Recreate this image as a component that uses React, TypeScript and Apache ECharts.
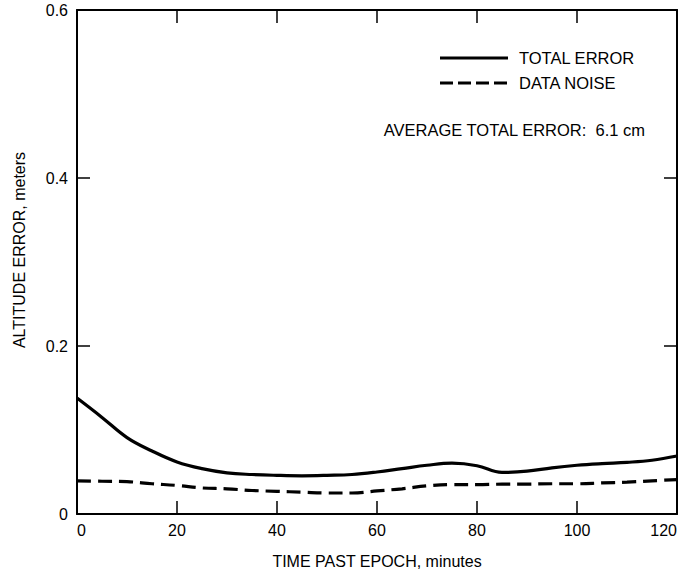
import React, { useEffect, useRef } from "react";
import * as echarts from "echarts";

const minutes = [0, 5, 10, 15, 20, 25, 30, 35, 40, 45, 50, 55, 60, 65, 70, 75, 80, 85, 90, 95, 100, 105, 110, 115, 120];
const totalError = [0.138, 0.115, 0.091, 0.075, 0.062, 0.054, 0.049, 0.047, 0.046, 0.0455, 0.046, 0.047, 0.05, 0.054, 0.058, 0.0605, 0.0575, 0.0495, 0.051, 0.055, 0.058, 0.06, 0.0615, 0.064, 0.069];
const dataNoise = [0.0395, 0.039, 0.0385, 0.036, 0.034, 0.031, 0.03, 0.028, 0.027, 0.026, 0.025, 0.025, 0.0275, 0.03, 0.0335, 0.035, 0.035, 0.0355, 0.0356, 0.036, 0.036, 0.037, 0.038, 0.0395, 0.041];
const seriesNames = ["TOTAL ERROR", "DATA NOISE"];
const xTitle = "TIME PAST EPOCH, minutes";
const yTitle = "ALTITUDE ERROR, meters";
const note = "AVERAGE TOTAL ERROR:  6.1 cm";

const FONT = "'Liberation Sans', Arial, sans-serif";

export default function App() {
  const ref = useRef<HTMLDivElement>(null);
  useEffect(() => {
    if (!ref.current) return;
    const chart = echarts.init(ref.current, undefined, { renderer: "svg" });
    const axisLine = { show: true, onZero: false, lineStyle: { color: "#000", width: 2 } };
    const tick = { show: true, inside: true, length: 13, lineStyle: { color: "#000", width: 1.5 } };
    const solidStyle = { color: "#000", width: 3.2, type: "solid" as const };
    const dashStyle = { color: "#000", width: 3.2, type: [14, 7] as number[] };
    chart.setOption({
      animation: false,
      backgroundColor: "#fff",
      textStyle: { fontFamily: FONT, color: "#000" },
      grid: { left: 77, top: 10, right: 19, bottom: 58 },
      graphic: [
        { type: "line", shape: { x1: 440, y1: 58, x2: 508, y2: 58 }, style: { stroke: "#000", lineWidth: 3.2 } },
        { type: "line", shape: { x1: 440, y1: 83, x2: 508, y2: 83 }, style: { stroke: "#000", lineWidth: 3.2, lineDash: [13, 5] } },
        { type: "text", x: 519, y: 58, style: { text: seriesNames[0], font: `16.5px ${FONT}`, fill: "#000", verticalAlign: "middle" } },
        { type: "text", x: 519, y: 83, style: { text: seriesNames[1], font: `16.5px ${FONT}`, fill: "#000", verticalAlign: "middle" } },
        { type: "text", x: 645, y: 130, style: { text: note, font: `16.5px ${FONT}`, fill: "#000", align: "right", verticalAlign: "middle" } },
      ],
      xAxis: [
        {
          type: "value",
          min: 0,
          max: 120,
          interval: 20,
          position: "bottom",
          axisLine,
          axisTick: tick,
          splitLine: { show: false },
          axisLabel: { fontSize: 16, color: "#000", margin: 8, fontFamily: FONT, alignMinLabel: "left", alignMaxLabel: "right" },
          name: xTitle,
          nameLocation: "middle",
          nameGap: 39,
          nameTextStyle: { fontSize: 16, color: "#000", fontFamily: FONT },
        },
        {
          type: "value",
          min: 0,
          max: 120,
          interval: 20,
          position: "top",
          axisLine,
          axisTick: tick,
          splitLine: { show: false },
          axisLabel: { show: false },
        },
      ],
      yAxis: [
        {
          type: "value",
          min: 0,
          max: 0.6,
          interval: 0.2,
          position: "left",
          axisLine,
          axisTick: tick,
          splitLine: { show: false },
          axisLabel: { fontSize: 16, color: "#000", margin: 9, fontFamily: FONT },
          name: yTitle,
          nameLocation: "middle",
          nameGap: 50,
          nameTextStyle: { fontSize: 16, color: "#000", fontFamily: FONT, padding: [0, 0, 0, 24] },
        },
        {
          type: "value",
          min: 0,
          max: 0.6,
          interval: 0.2,
          position: "right",
          axisLine,
          axisTick: tick,
          splitLine: { show: false },
          axisLabel: { show: false },
        },
      ],
      series: [
        {
          name: seriesNames[0],
          type: "line",
          smooth: 0.4,
          symbol: "none",
          data: minutes.map((m, i) => [m, totalError[i]]),
          lineStyle: solidStyle,
        },
        {
          name: seriesNames[1],
          type: "line",
          smooth: 0.4,
          symbol: "none",
          data: minutes.map((m, i) => [m, dataNoise[i]]),
          lineStyle: dashStyle,
        },
      ],
    });
    return () => chart.dispose();
  }, []);
  return <div ref={ref} style={{ width: 696, height: 574, position: "absolute", left: 0, top: 0 }} />;
}
